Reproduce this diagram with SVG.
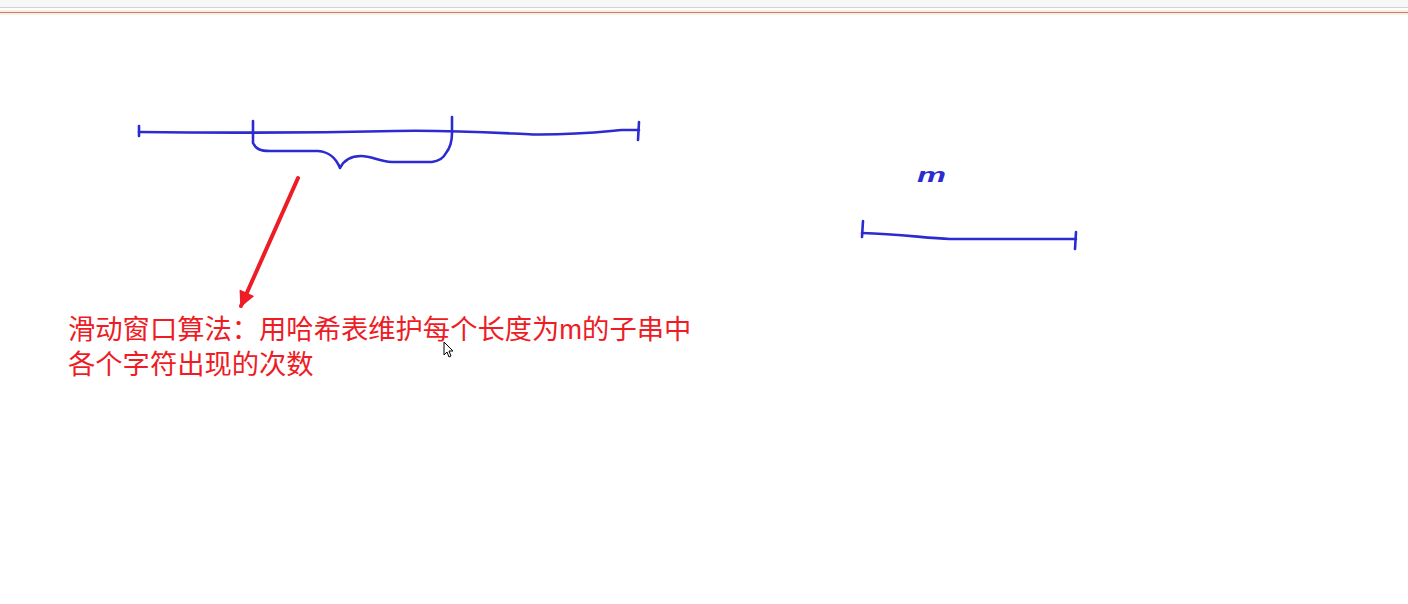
<svg xmlns="http://www.w3.org/2000/svg" width="1408" height="604" viewBox="0 0 1408 604">
<style>
.ink{fill:none;stroke:#2b2bd0;stroke-width:2.6;stroke-linecap:round;stroke-linejoin:round}
.note{fill:#ee1c25;font-family:"Liberation Sans","Noto Sans CJK SC",sans-serif;font-size:27.3px}
</style>
<defs>
<marker id="ah" viewBox="0 0 10 10" refX="9" refY="5" markerWidth="4.5" markerHeight="4" orient="auto" markerUnits="strokeWidth">
<path d="M0,0 L10,5 L0,10 Z" fill="#ee1c25"/>
</marker>
</defs>
<rect width="1408" height="604" fill="#ffffff"/>
<g id="toolbar">
<rect x="0" y="0" width="1408" height="7" fill="#f7f7f7"/>
<line x1="0" y1="7.5" x2="1408" y2="7.5" stroke="#d2d2d2" stroke-width="1"/>
<rect x="0" y="10" width="1408" height="5" fill="#fbeee4"/>
<line x1="0" y1="12.5" x2="1408" y2="12.5" stroke="#b98468" stroke-width="1.2"/>
</g>
<g id="long-segment">
<path class="ink" d="M139,126 L139,136"/>
<path class="ink" d="M139,132 C220,133 300,133 395,131 C450,130 480,132 533,134.5 C575,135 600,132 622,130 L639,130"/>
<path class="ink" d="M639,122 L638,140"/>
</g>
<g id="window-brace">
<path class="ink" d="M253,121 L253,143 C256,149 260,151 270,151 L318,151 C330,152 336,158 340,168 C344,160 352,156 361,156 C372,156 378,161 392,162 L432,162 C440,161 444,157 446,153 C450,148 452,140 452,133 L452,117"/>
</g>
<g id="m-segment">
<text x="917" y="182" fill="#2b2bd0" font-family="Liberation Sans, sans-serif" font-size="21" font-style="italic" font-weight="bold" textLength="29" lengthAdjust="spacingAndGlyphs">m</text>
<path class="ink" d="M863,221 L862,237"/>
<path class="ink" d="M862,233 C900,234 925,238 950,239 L1076,239"/>
<path class="ink" d="M1076,232 L1075,249"/>
</g>
<g id="connectors">
<line x1="298" y1="178" x2="241" y2="306" stroke="#ee1c25" stroke-width="4" stroke-linecap="round" marker-end="url(#ah)"/>
</g>
<g id="note">
<text class="note" x="68" y="339">滑动窗口算法：用哈希表维护每个长度为m的子串中</text>
<text class="note" x="68" y="374">各个字符出现的次数</text>
</g>
<g id="cursor">
<path d="M444,342 L444,355 L447,352 L449,357 L451,356 L449,351 L453,351 Z" fill="#ffffff" stroke="#000000" stroke-width="1"/>
</g>
</svg>
